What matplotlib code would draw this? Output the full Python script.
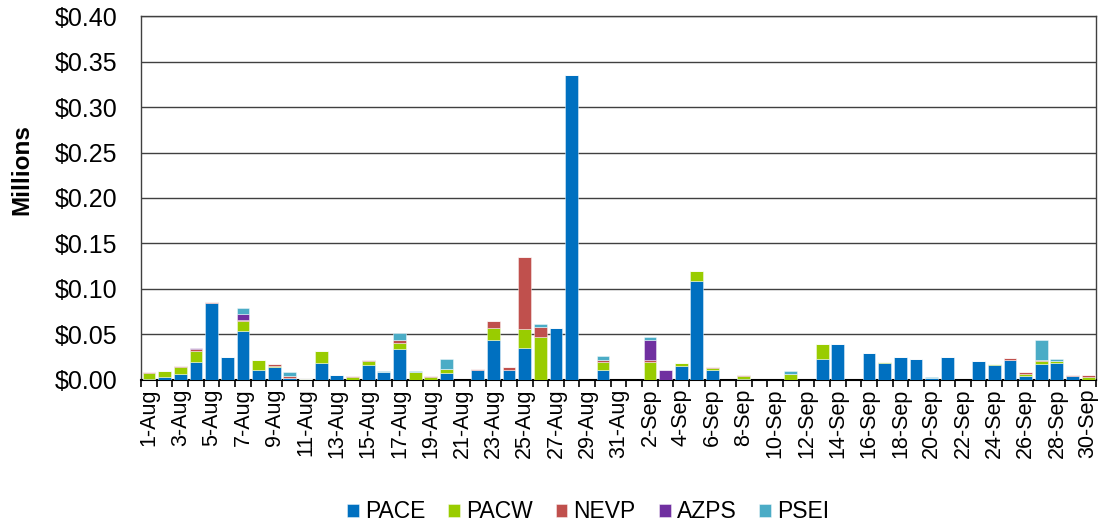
import matplotlib
matplotlib.use("Agg")
import matplotlib.pyplot as plt
import numpy as np
from datetime import date, timedelta

plt.rcParams['font.family'] = ['Liberation Sans', 'DejaVu Sans']

start = date(2023, 8, 1)
days = [start + timedelta(days=i) for i in range(61)]
categories = [f"{d.day}-{d.strftime('%b')}" for d in days]

PACE = [0.001, 0.0033, 0.007, 0.0193, 0.0844, 0.0252, 0.054, 0.0115, 0.0144, 0.002,
        0.0, 0.0185, 0.0056, 0.0, 0.016, 0.0085, 0.034, 0.0005, 0.0, 0.008,
        0.0, 0.0107, 0.0441, 0.0115, 0.0356, 0.0, 0.0574, 0.335, 0.0, 0.0107,
        0.0, 0.0, 0.0, 0.0, 0.0159, 0.109, 0.0115, 0.0, 0.001, 0.0,
        0.0, 0.0, 0.0, 0.0233, 0.040, 0.0, 0.030, 0.0185, 0.0252, 0.0233,
        0.0022, 0.0252, 0.0, 0.0204, 0.0163, 0.0215, 0.0048, 0.017, 0.0181, 0.0041,
        0.0]
PACW = [0.0068, 0.0071, 0.0074, 0.0122, 0.0, 0.0, 0.0108, 0.010, 0.0012, 0.0,
        0.0007, 0.013, 0.0, 0.0033, 0.0047, 0.0, 0.0067, 0.0088, 0.0033, 0.0045,
        0.0, 0.0, 0.0133, 0.0, 0.0204, 0.0467, 0.0, 0.0, 0.0, 0.0093,
        0.0, 0.0, 0.0196, 0.0, 0.003, 0.0108, 0.0018, 0.0, 0.0034, 0.0,
        0.0, 0.0067, 0.0, 0.016, 0.0, 0.0, 0.0, 0.0008, 0.0004, 0.0,
        0.0, 0.0004, 0.0, 0.0, 0.0011, 0.0, 0.0019, 0.0034, 0.003, 0.0,
        0.0037]
NEVP = [0.0005, 0.0, 0.0005, 0.0022, 0.001, 0.0, 0.001, 0.0, 0.0014, 0.002,
        0.0, 0.0, 0.0, 0.0008, 0.0008, 0.0, 0.0037, 0.0, 0.0011, 0.0,
        0.0, 0.0015, 0.0078, 0.0029, 0.079, 0.0118, 0.0, 0.0, 0.0, 0.0018,
        0.0, 0.0, 0.0019, 0.0, 0.0, 0.0, 0.0015, 0.0, 0.0011, 0.0,
        0.0, 0.0, 0.0, 0.0, 0.0, 0.0, 0.0, 0.0, 0.0, 0.0,
        0.0, 0.0, 0.0, 0.0, 0.0006, 0.0029, 0.0026, 0.0011, 0.0, 0.0015,
        0.0015]
AZPS = [0.0, 0.0, 0.0, 0.0012, 0.0, 0.0, 0.0067, 0.0, 0.0, 0.0,
        0.0, 0.0, 0.0, 0.0, 0.0, 0.0, 0.0, 0.0, 0.0, 0.0,
        0.0, 0.0, 0.0, 0.0, 0.0, 0.0, 0.0, 0.0, 0.0, 0.0,
        0.0, 0.0, 0.0222, 0.011, 0.0, 0.0, 0.0, 0.0, 0.0, 0.0,
        0.0, 0.0, 0.0, 0.0, 0.0, 0.0, 0.0, 0.0, 0.0, 0.0,
        0.0, 0.0, 0.0, 0.0, 0.0, 0.0, 0.0, 0.0, 0.0, 0.0,
        0.0]
PSEI = [0.0, 0.0, 0.0, 0.0, 0.0, 0.0, 0.0065, 0.0, 0.0, 0.0045,
        0.0, 0.0, 0.0, 0.0, 0.0, 0.0011, 0.0067, 0.001, 0.0, 0.0107,
        0.0, 0.0, 0.0, 0.0, 0.0, 0.0026, 0.0, 0.0, 0.0, 0.0045,
        0.0, 0.0, 0.0033, 0.0, 0.0, 0.0, 0.0, 0.0, 0.0, 0.0,
        0.0, 0.0037, 0.0, 0.0, 0.0, 0.0, 0.0, 0.0, 0.0, 0.0,
        0.0008, 0.0, 0.0, 0.0, 0.0, 0.0, 0.0, 0.0222, 0.0022, 0.0,
        0.0]

series = [("PACE", PACE, "#0070C0"), ("PACW", PACW, "#99CC00"),
          ("NEVP", NEVP, "#C0504D"), ("AZPS", AZPS, "#7030A0"),
          ("PSEI", PSEI, "#4BACC6")]

fig = plt.figure(figsize=(11.03, 5.27), dpi=100)
ax = fig.add_axes([0.128, 0.279, 0.8657, 0.6906])

x = np.arange(len(categories))
bottom = np.zeros(len(categories))
for name, vals, col in series:
    v = np.array(vals)
    ax.bar(x, v, 0.82, bottom=bottom, color=col, label=name,
           edgecolor=(1, 1, 1, 0.5), linewidth=0.6, zorder=3)
    bottom += v

ax.set_xlim(-0.5, len(categories) - 0.5)
ax.set_ylim(0, 0.40)
yt = np.arange(0, 0.401, 0.05)
ax.set_yticks(yt)
ax.set_yticklabels([f"${v:.2f}" for v in yt], fontsize=18)
ax.yaxis.grid(True, color="#404040", linewidth=1.0, zorder=0)
ax.tick_params(axis='y', length=0, pad=17)

ax.set_xticks(x[::2])
ax.set_xticklabels(categories[::2], rotation=90, fontsize=15.5)
ax.set_xticks(np.arange(-0.5, len(categories), 1), minor=True)
ax.tick_params(axis='x', which='major', length=0, pad=6)
ax.tick_params(axis='x', which='minor', length=5, width=1.2, color="#000000")

for s in ['left', 'right', 'top', 'bottom']:
    ax.spines[s].set_color("#404040")
    ax.spines[s].set_linewidth(1.0)
ax.spines['bottom'].set_color("#000000")
ax.spines['bottom'].set_linewidth(1.5)

ax.set_ylabel("Millions", fontsize=17.5, fontweight='bold')
ax.yaxis.set_label_coords(-0.113, 0.577)

fig.legend(loc='center', bbox_to_anchor=(588 / 1103, 1 - 512 / 527), ncol=5, frameon=False,
           fontsize=16.5, handlelength=0.52, handleheight=0.52, handletextpad=0.26,
           columnspacing=1.0)

fig.savefig("out.png", dpi=100)
